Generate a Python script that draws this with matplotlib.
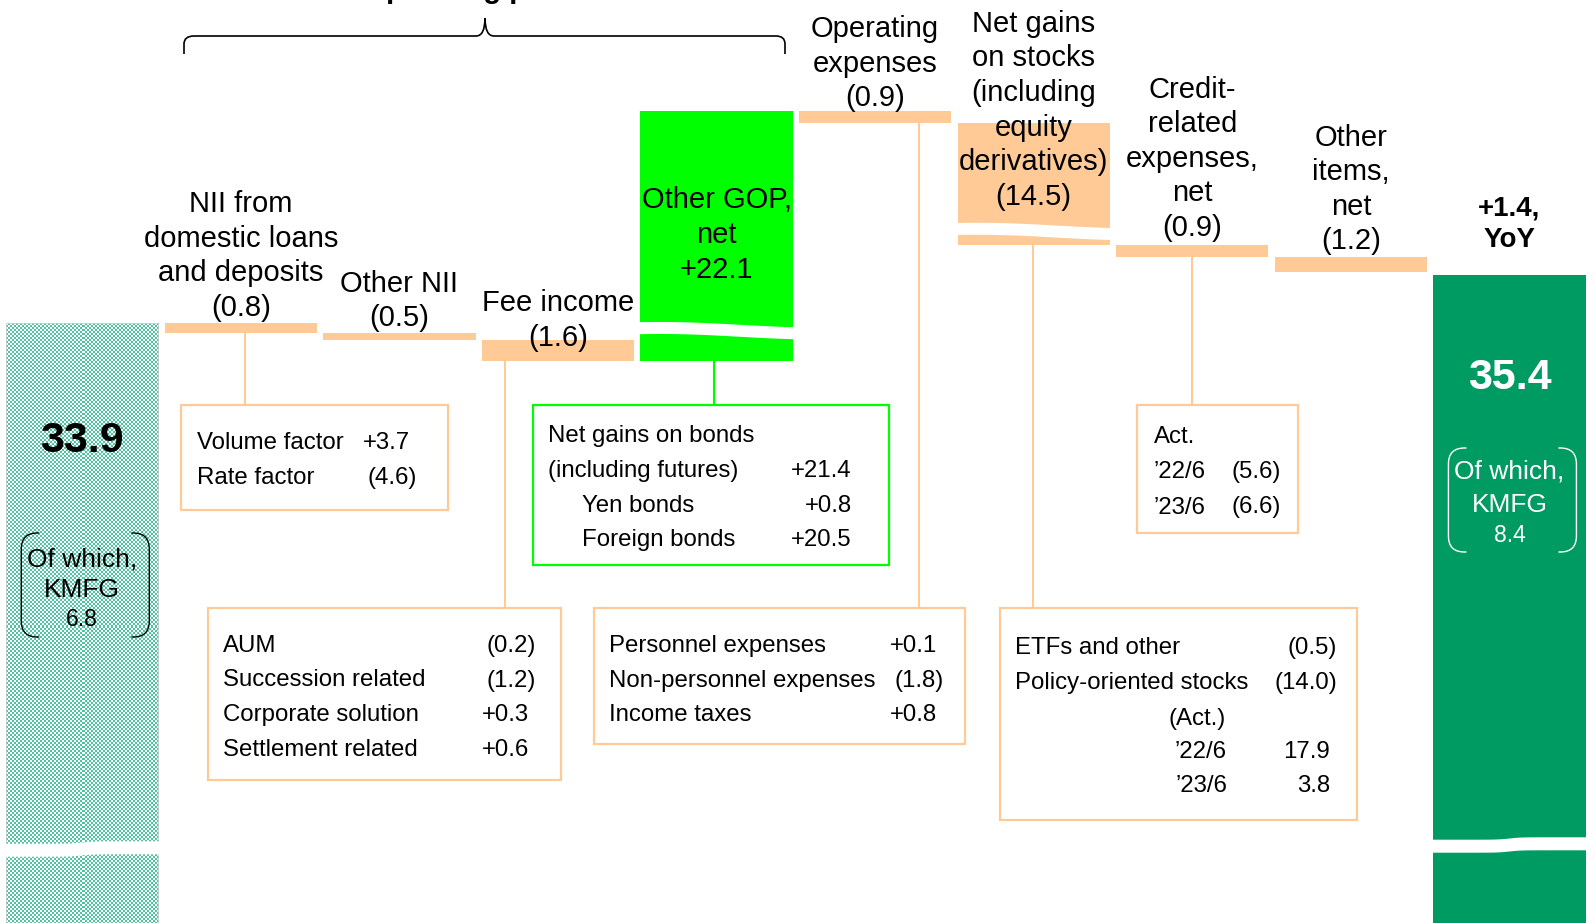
import numpy as np
import matplotlib.pyplot as plt
from matplotlib.patches import Rectangle, Polygon, PathPatch
from matplotlib.path import Path

plt.rcParams['font.family'] = ['Liberation Sans', 'DejaVu Sans']

# ---- data (JPY bn) ----
start_total = 33.9
end_total = 35.4
yoy_change = 1.4
kmfg_start = 6.8
kmfg_end = 8.4

step_labels = ['NII from\ndomestic loans\nand deposits', 'Other NII', 'Fee income',
               'Other GOP,\nnet', 'Operating\nexpenses',
               'Net gains\non stocks\n(including\nequity\nderivatives)',
               'Credit-\nrelated\nexpenses,\nnet', 'Other\nitems,\nnet']
step_values = [-0.8, -0.5, -1.6, 22.1, -0.9, -14.5, -0.9, -1.2]

nii_items = ['Volume factor', 'Rate factor']
nii_values = [3.7, -4.6]
bond_items = ['(including futures)', 'Yen bonds', 'Foreign bonds']
bond_values = [21.4, 0.8, 20.5]
credit_periods = ['\u201922/6', '\u201923/6']
credit_actuals = [-5.6, -6.6]
fee_items = ['AUM', 'Succession related', 'Corporate solution', 'Settlement related']
fee_values = [-0.2, -1.2, 0.3, 0.6]
opex_items = ['Personnel expenses', 'Non-personnel expenses', 'Income taxes']
opex_values = [0.1, -1.8, 0.8]
stock_items = ['ETFs and other', 'Policy-oriented stocks']
stock_values = [-0.5, -14.0]
stock_periods = ['\u201922/6', '\u201923/6']
stock_actuals = [17.9, 3.8]

# ---- layout ----
W, H = 1595, 923
PX = 13.0          # pixels per JPY bn
TOP_PX = 323       # pixel row of the opening total
X0, DX = 82.3, 158.57
BAR_W = 0.96
squeeze = [0, 0, 0, 2.9, 0, 5.1, 0, 0]          # amount hidden by the wavy break
break_frac = [None, None, None, 0.12, None, 0.11, None, None]
label_off = [-67, -32.4, -19.4, 124, -47.5, -12.4, -86.2, -67.2]  # px from bar top

PEACH = '#FFCA96'
LIME = '#00FF00'
DARK = '#009B62'
FS_LAB = 21
FS_BOX = 17.25
LSP = 1.3


def fmt(v):
    return f'+{v:.1f}' if v > 0 else f'({abs(v):.1f})'


def xd(px):
    return (px - X0) / DX


def yd(py):
    return start_total + (TOP_PX - py) / PX


fig = plt.figure(figsize=(W / 100, H / 100), dpi=100)
ax = fig.add_axes([0, 0, 1, 1])
ax.axis('off')

ybot = yd(H) - 1
n = len(step_values)

# opening total: checkered teal bar
xl, xr = -BAR_W / 2, BAR_W / 2
ncol = int(round(BAR_W * DX / 2))
nrow = int(round((start_total - ybot) * PX / 2))
cb = np.add.outer(np.arange(nrow), np.arange(ncol)) % 2
teal = np.array([78, 196, 160]) / 255
img = np.where(cb[..., None] == 0, teal, np.ones(3))
ax.imshow(img, extent=(xl, xr, ybot, start_total), origin='lower',
          interpolation='nearest', aspect='auto', zorder=1)
ax.bar(0, start_total - ybot, bottom=ybot, width=BAR_W, facecolor='none',
       edgecolor='#cccccc', lw=0.6, zorder=1)

# waterfall steps
cur = start_total
tops, bots = [], []
for i, (v, sq) in enumerate(zip(step_values, squeeze)):
    shown = v - np.sign(v) * sq
    lo, hi = min(cur, cur + shown), max(cur, cur + shown)
    ax.bar(i + 1, hi - lo, bottom=lo, width=BAR_W,
           color=LIME if v > 0 else PEACH, zorder=2)
    tops.append(hi)
    bots.append(lo)
    cur += shown

offset = cur - (start_total + sum(step_values))
end_top = end_total + offset
ax.bar(n + 1, end_top - ybot, bottom=ybot, width=BAR_W, color=DARK, zorder=2)


def add_break(xc, yc, thick, kind):
    t = np.linspace(0, 1, 80)
    xs = xc - BAR_W / 2 - 0.02 + t * (BAR_W + 0.04)
    if kind == 'wave':
        dy = 2.5 * np.cos(np.pi * t) + 1.2 * np.sin(np.pi * t)
    else:
        dy = 1.2 * np.tanh((t - 0.5) * 14)
    mid = yc + dy / PX
    up = mid + thick / 2 / PX
    dn = mid - thick / 2 / PX
    pts = np.column_stack([np.r_[xs, xs[::-1]], np.r_[up, dn[::-1]]])
    ax.add_patch(Polygon(pts, closed=True, facecolor='white', edgecolor='none', zorder=3))


for i, f in enumerate(break_frac):
    if f is not None:
        add_break(i + 1, bots[i] + f * (tops[i] - bots[i]), 12, 'wave')
add_break(0, yd(849), 13, 'step')
add_break(n + 1, yd(845), 13, 'step')

# step labels
for i, (lab, v) in enumerate(zip(step_labels, step_values)):
    ax.annotate(f'{lab}\n{fmt(v)}', xy=(i + 1, tops[i]), xytext=(0, -label_off[i] * 0.72),
                textcoords='offset points', ha='center', va='center',
                fontsize=FS_LAB, linespacing=LSP, zorder=6)
ax.annotate(f'+{yoy_change:.1f},\nYoY', xy=(n + 1, end_top), xytext=(0, 50.5 * 0.72),
            textcoords='offset points', ha='center', va='center',
            fontsize=20, fontweight='bold', linespacing=LSP, zorder=6)

# totals text
ax.text(0, yd(441), f'{start_total:.1f}', ha='center', va='center',
        fontsize=31, fontweight='bold', zorder=6)
ax.text(n + 1, yd(378), f'{end_total:.1f}', ha='center', va='center',
        fontsize=31, fontweight='bold', color='white', zorder=6)
for xi, val, ys, col in [(0, kmfg_start, (559, 590, 620), 'black'),
                         (n + 1, kmfg_end, (472, 505, 535), 'white')]:
    ax.text(xi, yd(ys[0]), 'Of which,', ha='center', va='center', fontsize=19, color=col, zorder=6)
    ax.text(xi, yd(ys[1]), 'KMFG', ha='center', va='center', fontsize=19, color=col, zorder=6)
    ax.text(xi, yd(ys[2]), f'{val:.1f}', ha='center', va='center', fontsize=16.5, color=col, zorder=6)


def bracket(cx, y0, y1, col, lw):
    r, stub = 16, 18
    for side in (-1, 1):
        xe = cx + side * 64
        xin = xe - side * stub
        v = [(xin, y0), (xe - side * r, y0), (xe, y0), (xe, y0 + r),
             (xe, y1 - r), (xe, y1), (xe - side * r, y1), (xin, y1)]
        c = [Path.MOVETO, Path.LINETO, Path.CURVE3, Path.CURVE3,
             Path.LINETO, Path.CURVE3, Path.CURVE3, Path.LINETO]
        v = [(xd(a), yd(b)) for a, b in v]
        ax.add_patch(PathPatch(Path(v, c), fill=False, edgecolor=col, lw=lw, zorder=6))


bracket(X0 + 3, 533, 637, 'black', 1.0)
bracket(X0 + (n + 1) * DX + 3, 448, 552, 'white', 1.0)

# brace over the gross operating profit items
bv = [(184, 54), (184, 44), (184, 36), (194, 36), (476, 36), (485, 36), (485, 18),
      (485, 36), (494, 36), (776, 36), (785, 36), (785, 44), (785, 54)]
bc = [Path.MOVETO, Path.LINETO, Path.CURVE3, Path.CURVE3, Path.LINETO, Path.CURVE3, Path.CURVE3,
      Path.CURVE3, Path.CURVE3, Path.LINETO, Path.CURVE3, Path.CURVE3, Path.LINETO]
ax.add_patch(PathPatch(Path([(xd(a), yd(b)) for a, b in bv], bc), fill=False,
                       edgecolor='black', lw=1.2, zorder=6))
ax.text(xd(430), yd(-2), 'Gross operating profit', ha='center', va='baseline',
        fontsize=21, fontweight='bold', zorder=6)


# detail boxes
def box(x0, y0, x1, y1, col):
    ax.add_patch(Rectangle((xd(x0), yd(y1)), xd(x1) - xd(x0), yd(y0) - yd(y1),
                           fill=False, edgecolor=col, lw=1.6, zorder=4))


def row(px, py, s, ha='left'):
    ax.text(xd(px), yd(py + 3), s, ha=ha, va='center', fontsize=FS_BOX, zorder=5)


def value(right, py, v, signed=True):
    s = fmt(v) if signed else f'{v:.1f}'
    row(right if s.endswith(')') else right - 7, py, s, ha='right')


def connector(step, px, box_top, col):
    ax.plot([xd(px), xd(px)], [bots[step], yd(box_top)], color=col, lw=1.5, zorder=1.5)


connector(0, 245, 405, PEACH)
connector(2, 504.5, 608, PEACH)
connector(3, 714, 405, LIME)
connector(4, 918.5, 608, PEACH)
connector(5, 1032.5, 608, PEACH)
connector(6, 1192, 405, PEACH)

# NII
box(181, 405, 448, 510, PEACH)
for lab, v, y in zip(nii_items, nii_values, [440, 475]):
    row(197, y, lab)
    value(417, y, v)

# bonds
box(533, 405, 889, 565, LIME)
row(548, 433, 'Net gains on bonds')
for k, (lab, v, y) in enumerate(zip(bond_items, bond_values, [468, 502.5, 537])):
    row(548 if k == 0 else 582, y, lab)
    value(859, y, v)

# credit actuals
box(1137, 405, 1298, 533, PEACH)
row(1153.5, 434, 'Act.')
for lab, v, y in zip(credit_periods, credit_actuals, [469, 504.5]):
    row(1153.5, y, lab)
    value(1281, y, v)

# fee income
box(207.5, 608, 560.5, 780, PEACH)
for lab, v, y in zip(fee_items, fee_values, [643, 677.5, 712, 747]):
    row(223, y, lab)
    value(536, y, v)

# operating expenses
box(594, 608, 965, 744, PEACH)
for lab, v, y in zip(opex_items, opex_values, [643, 677.5, 712]):
    row(609, y, lab)
    value(944, y, v)

# stocks
box(1000, 608, 1357, 820, PEACH)
for lab, v, y in zip(stock_items, stock_values, [645, 680.5]):
    row(1015, y, lab)
    value(1337, y, v)
row(1226, 716, '(Act.)', ha='right')
for lab, v, y in zip(stock_periods, stock_actuals, [749.5, 783]):
    row(1227, y, lab, ha='right')
    value(1337, y, v, signed=False)

ax.set_xlim(xd(0), xd(W))
ax.set_ylim(yd(H), yd(0))
fig.savefig('out.png', dpi=100)
